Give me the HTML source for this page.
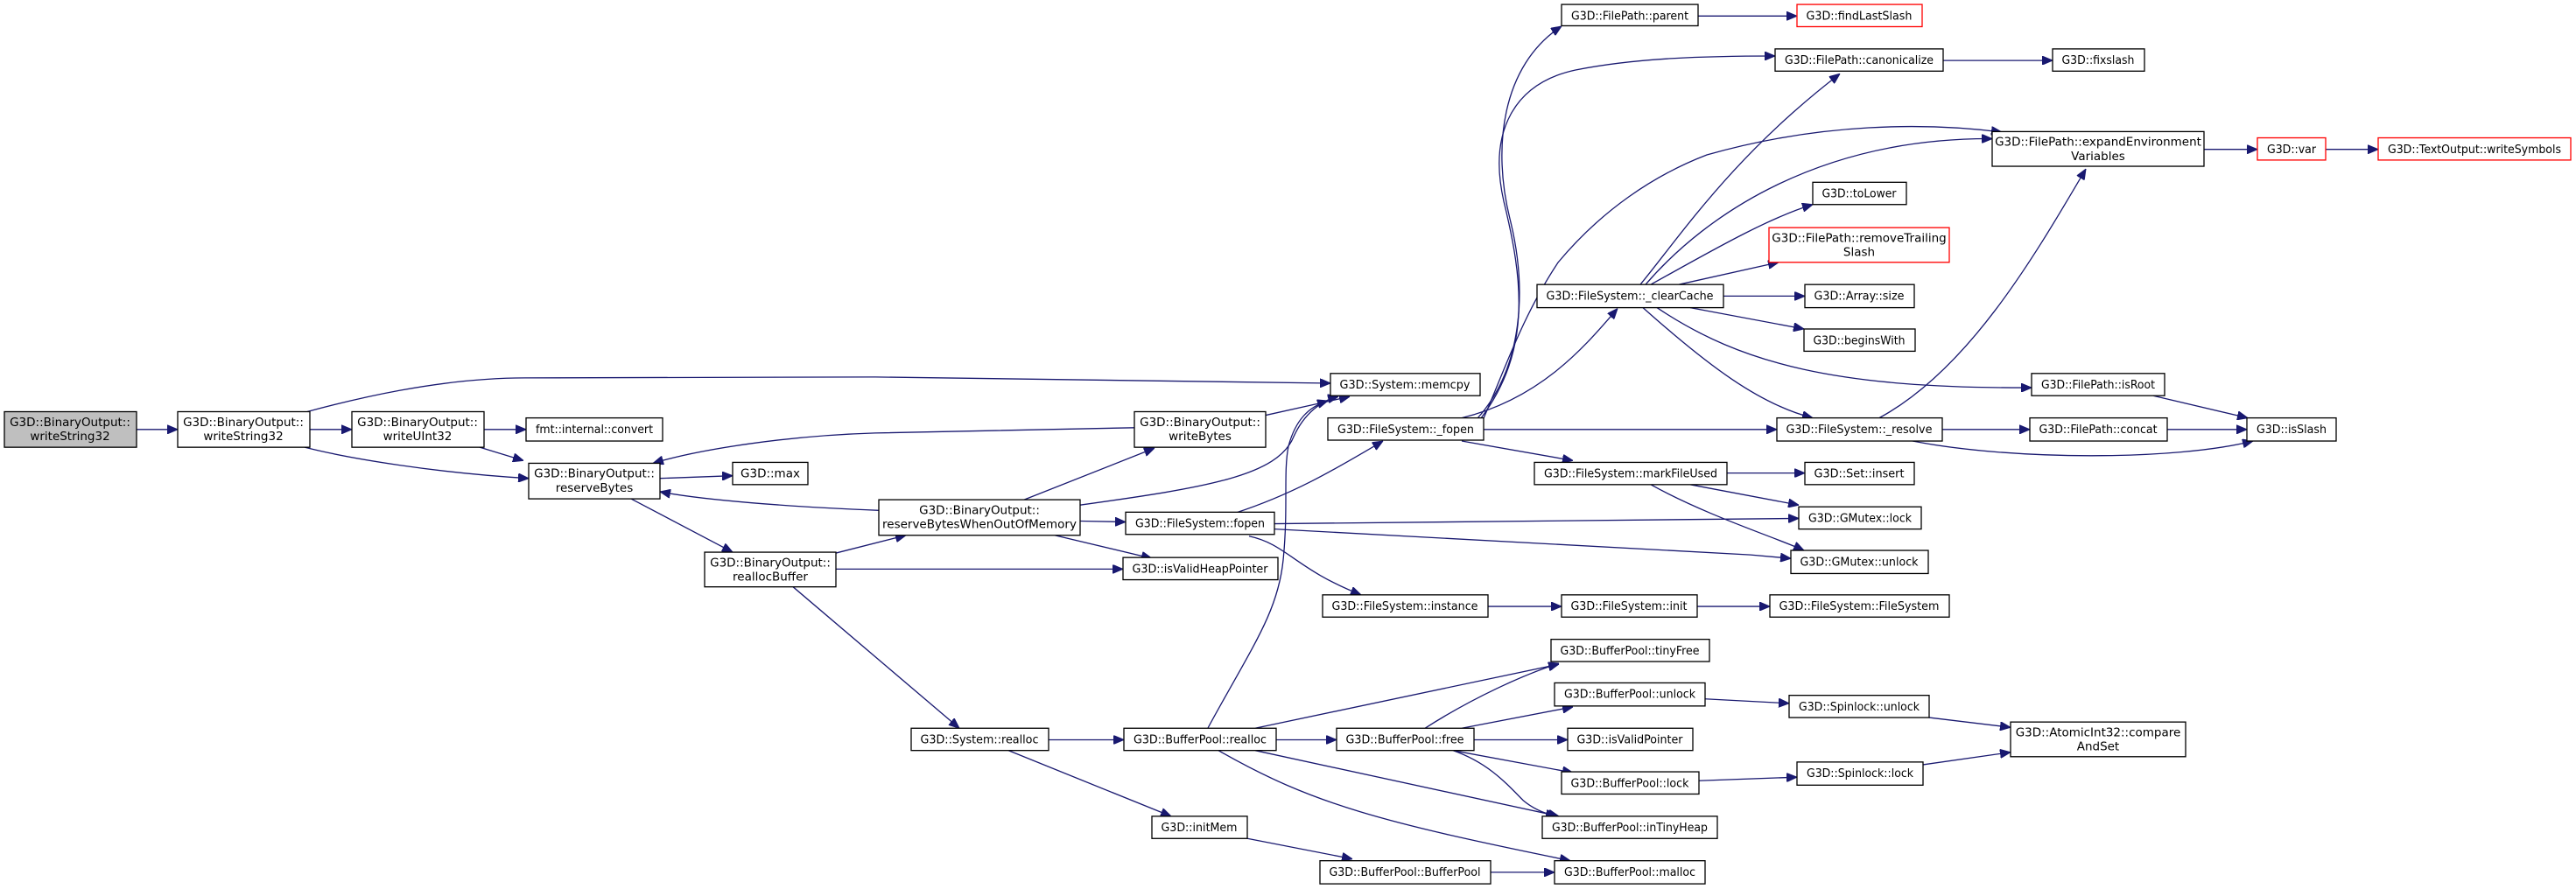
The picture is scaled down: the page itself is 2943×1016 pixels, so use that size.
<!DOCTYPE html>
<html><head><meta charset="utf-8"><style>
html,body{margin:0;padding:0;background:#fff;}
svg{display:block;}
text{font-family:"DejaVu Sans","Liberation Sans",sans-serif;font-size:13.5px;fill:#000;text-anchor:middle;}
.n{fill:#fff;stroke:#000;stroke-width:1.3;}
.r{fill:#fff;stroke:#ff0000;stroke-width:1.3;}
.g{fill:#bfbfbf;stroke:#000;stroke-width:1.3;}
.e{fill:none;stroke:#191970;stroke-width:1.3;marker-end:url(#a);}
</style></head><body>
<svg width="2943" height="1016" viewBox="0 0 2943 1016" xmlns="http://www.w3.org/2000/svg">
<defs><marker id="a" viewBox="0 0 12 10" refX="12" refY="5" markerWidth="12" markerHeight="10" markerUnits="userSpaceOnUse" orient="auto"><path d="M0,0 L12,5 L0,10 z" fill="#191970" stroke="#191970"/></marker></defs>

<!-- edges in real coords -->
<path class="e" d="M1688,478 C1740,420 1745,330 1725,250 C1705,170 1715,75 1784,30"/>
<path class="e" d="M1692,478 C1750,400 1740,320 1718,230 C1700,150 1730,95 1800,80 C1870,66 1950,64 2028,64"/>
<path class="e" d="M1695,478 C1720,420 1740,360 1780,300 C1830,240 1890,200 1950,177 C2080,140 2200,140 2287,151"/>
<path class="e" d="M1380,832 C1430,740 1460,700 1466,640 C1472,580 1466,540 1472,510 C1480,480 1495,465 1517,458"/>

<g transform="scale(1,1.0162)">
<!-- edges -->
<path class="e" d="M156,483 L203,483"/>
<path class="e" d="M354,483 L402,483"/>
<path class="e" d="M553,483 L601,483"/>
<path class="e" d="M351,463 C400,450 500,425 600,425 L1000,424 L1520,431"/>
<path class="e" d="M348,503 C400,516 500,532 604,538"/>
<path class="e" d="M548,503 L598,518"/>
<path class="e" d="M754,538 L837,535"/>
<path class="e" d="M721,561 L837,621"/>
<path class="e" d="M1296,481 L1000,487 C900,490 800,505 746,521"/>
<path class="e" d="M1004,574 C900,570 800,562 754,553"/>
<path class="e" d="M955,622 L1035,602"/>
<path class="e" d="M955,640 L1283,640"/>
<path class="e" d="M906,660 L1096,819"/>
<path class="e" d="M1170,562 L1319,504"/>
<path class="e" d="M1446,467 L1542,446"/>
<path class="e" d="M1234,568 C1380,548 1460,535 1478,491 C1490,465 1510,450 1529,446"/>
<path class="e" d="M1234,586 L1286,587"/>
<path class="e" d="M1205,602 L1316,628"/>
<path class="e" d="M1411,577 C1480,555 1530,525 1580,496"/>
<path class="e" d="M1456,589 L2055,583"/>
<path class="e" d="M1456,595 L2000,624 L2046,628"/>
<path class="e" d="M1427,603 C1470,612 1480,640 1555,669"/>
<path class="e" d="M1700,682 L1784,682"/>
<path class="e" d="M1939,682 L2022,682"/>
<path class="e" d="M1198,832 L1284,832"/>
<path class="e" d="M1152,844 L1338,918"/>
<path class="e" d="M1425,943 L1545,966"/>
<path class="e" d="M1703,981 L1776,981"/>
<path class="e" d="M1458,832 L1527,832"/>
<path class="e" d="M1434,819 L1781,747"/>
<path class="e" d="M1434,844 L1781,918"/>
<path class="e" d="M1392,844 C1500,905 1580,925 1794,968"/>
<path class="e" d="M1628,819 C1682,785 1740,759 1781,746"/>
<path class="e" d="M1670,819 L1797,795"/>
<path class="e" d="M1684,832 L1791,832"/>
<path class="e" d="M1660,844 L1797,869"/>
<path class="e" d="M1660,844 C1700,858 1720,880 1740,900 C1752,910 1765,915 1778,918"/>
<path class="e" d="M1948,786 L2044,791"/>
<path class="e" d="M1941,878 L2053,874"/>
<path class="e" d="M2204,807 L2297,818"/>
<path class="e" d="M2197,860 L2297,846"/>
<path class="e" d="M1670,470 C1765,447 1816,383 1848,347"/>
<path class="e" d="M1695,483 L2030,483"/>
<path class="e" d="M1670,496 L1797,518"/>
<path class="e" d="M1874,320 C1920,265 1980,175 2102,83"/>
<path class="e" d="M1880,320 C1950,240 2080,155 2276,156"/>
<path class="e" d="M1886,320 C1950,285 2020,245 2071,230"/>
<path class="e" d="M1918,320 L2032,295"/>
<path class="e" d="M1969,333 L2062,333"/>
<path class="e" d="M1931,346 L2061,370"/>
<path class="e" d="M1893,346 C1990,410 2100,437 2321,436"/>
<path class="e" d="M1877,346 C1950,410 2010,455 2071,470"/>
<path class="e" d="M2147,470 C2250,415 2325,287 2383,190"/>
<path class="e" d="M2219,483 L2319,483"/>
<path class="e" d="M2185,496 C2300,518 2485,518 2574,496"/>
<path class="e" d="M2476,483 L2567,483"/>
<path class="e" d="M2460,445 L2568,470"/>
<path class="e" d="M1973,532 L2062,532"/>
<path class="e" d="M1931,545 L2055,568"/>
<path class="e" d="M1886,545 C1950,580 2030,605 2061,619"/>
<path class="e" d="M1940,18 L2053,18"/>
<path class="e" d="M2220,68 L2345,68"/>
<path class="e" d="M2518,168 L2579,168"/>
<path class="e" d="M2657,168 L2717,168"/>

<!-- two-line nodes -->
<rect class="g" x="5" y="463" width="151" height="40"/><text x="80" y="479">G3D::BinaryOutput::</text><text x="80" y="495">writeString32</text>
<rect class="n" x="203" y="463" width="151" height="40"/><text x="278" y="479">G3D::BinaryOutput::</text><text x="278" y="495">writeString32</text>
<rect class="n" x="402" y="463" width="151" height="40"/><text x="477" y="479">G3D::BinaryOutput::</text><text x="477" y="495">writeUInt32</text>
<rect class="n" x="604" y="521" width="150" height="40"/><text x="679" y="537">G3D::BinaryOutput::</text><text x="679" y="553">reserveBytes</text>
<rect class="n" x="805" y="621" width="150" height="39"/><text x="880" y="637">G3D::BinaryOutput::</text><text x="880" y="653">reallocBuffer</text>
<rect class="n" x="1296" y="463" width="150" height="40"/><text x="1371" y="479">G3D::BinaryOutput::</text><text x="1371" y="495">writeBytes</text>
<rect class="n" x="1004" y="562" width="230" height="40"/><text x="1119" y="578">G3D::BinaryOutput::</text><text x="1119" y="594">reserveBytesWhenOutOfMemory</text>
<rect class="n" x="2276" y="148" width="242" height="39"/><text x="2397" y="164">G3D::FilePath::expandEnvironment</text><text x="2397" y="180">Variables</text>
<rect class="r" x="2021" y="256" width="206" height="39"/><text x="2124" y="272">G3D::FilePath::removeTrailing</text><text x="2124" y="288">Slash</text>
<rect class="n" x="2297" y="812" width="200" height="39"/><text x="2397" y="828">G3D::AtomicInt32::compare</text><text x="2397" y="844">AndSet</text>

<!-- single-line nodes -->
<rect class="n" x="601" y="470" width="156" height="26"/><text x="679" y="487" textLength="134" lengthAdjust="spacingAndGlyphs">fmt::internal::convert</text>
<rect class="n" x="837" y="520" width="86" height="25"/><text x="880" y="537">G3D::max</text>
<rect class="n" x="1784" y="5" width="156" height="24"/><text x="1862" y="22" textLength="134" lengthAdjust="spacingAndGlyphs">G3D::FilePath::parent</text>
<rect class="r" x="2053" y="5" width="143" height="25"/><text x="2124" y="22" textLength="121" lengthAdjust="spacingAndGlyphs">G3D::findLastSlash</text>
<rect class="n" x="2028" y="55" width="192" height="25"/><text x="2124" y="72" textLength="170" lengthAdjust="spacingAndGlyphs">G3D::FilePath::canonicalize</text>
<rect class="n" x="2345" y="55" width="105" height="25"/><text x="2397" y="72" textLength="83" lengthAdjust="spacingAndGlyphs">G3D::fixslash</text>
<rect class="r" x="2579" y="155" width="78" height="25"/><text x="2618" y="172" textLength="56" lengthAdjust="spacingAndGlyphs">G3D::var</text>
<rect class="r" x="2717" y="155" width="220" height="25"/><text x="2827" y="172" textLength="198" lengthAdjust="spacingAndGlyphs">G3D::TextOutput::writeSymbols</text>
<rect class="n" x="2071" y="205" width="107" height="25"/><text x="2124" y="222" textLength="85" lengthAdjust="spacingAndGlyphs">G3D::toLower</text>
<rect class="n" x="1756" y="320" width="213" height="26"/><text x="1862" y="337" textLength="191" lengthAdjust="spacingAndGlyphs">G3D::FileSystem::_clearCache</text>
<rect class="n" x="2062" y="320" width="125" height="26"/><text x="2124" y="337" textLength="103" lengthAdjust="spacingAndGlyphs">G3D::Array::size</text>
<rect class="n" x="2061" y="370" width="127" height="25"/><text x="2124" y="387" textLength="105" lengthAdjust="spacingAndGlyphs">G3D::beginsWith</text>
<rect class="n" x="1520" y="420" width="171" height="25"/><text x="1605" y="437" textLength="149" lengthAdjust="spacingAndGlyphs">G3D::System::memcpy</text>
<rect class="n" x="2321" y="420" width="152" height="25"/><text x="2397" y="437" textLength="130" lengthAdjust="spacingAndGlyphs">G3D::FilePath::isRoot</text>
<rect class="n" x="1517" y="470" width="178" height="25"/><text x="1606" y="487" textLength="156" lengthAdjust="spacingAndGlyphs">G3D::FileSystem::_fopen</text>
<rect class="n" x="2030" y="470" width="189" height="26"/><text x="2124" y="487" textLength="167" lengthAdjust="spacingAndGlyphs">G3D::FileSystem::_resolve</text>
<rect class="n" x="2319" y="470" width="157" height="26"/><text x="2397" y="487" textLength="135" lengthAdjust="spacingAndGlyphs">G3D::FilePath::concat</text>
<rect class="n" x="2567" y="470" width="102" height="26"/><text x="2618" y="487" textLength="80" lengthAdjust="spacingAndGlyphs">G3D::isSlash</text>
<rect class="n" x="1753" y="520" width="220" height="25"/><text x="1863" y="537" textLength="198" lengthAdjust="spacingAndGlyphs">G3D::FileSystem::markFileUsed</text>
<rect class="n" x="2062" y="520" width="125" height="25"/><text x="2124" y="537" textLength="103" lengthAdjust="spacingAndGlyphs">G3D::Set::insert</text>
<rect class="n" x="2055" y="570" width="140" height="25"/><text x="2125" y="587" textLength="118" lengthAdjust="spacingAndGlyphs">G3D::GMutex::lock</text>
<rect class="n" x="1286" y="576" width="170" height="25"/><text x="1371" y="593" textLength="148" lengthAdjust="spacingAndGlyphs">G3D::FileSystem::fopen</text>
<rect class="n" x="2046" y="619" width="157" height="26"/><text x="2124" y="636" textLength="135" lengthAdjust="spacingAndGlyphs">G3D::GMutex::unlock</text>
<rect class="n" x="1283" y="627" width="177" height="25"/><text x="1371" y="644" textLength="155" lengthAdjust="spacingAndGlyphs">G3D::isValidHeapPointer</text>
<rect class="n" x="1511" y="669" width="189" height="25"/><text x="1605" y="686" textLength="167" lengthAdjust="spacingAndGlyphs">G3D::FileSystem::instance</text>
<rect class="n" x="1784" y="669" width="155" height="25"/><text x="1861" y="686" textLength="133" lengthAdjust="spacingAndGlyphs">G3D::FileSystem::init</text>
<rect class="n" x="2022" y="669" width="205" height="25"/><text x="2124" y="686" textLength="183" lengthAdjust="spacingAndGlyphs">G3D::FileSystem::FileSystem</text>
<rect class="n" x="1772" y="719" width="181" height="25"/><text x="1862" y="736" textLength="159" lengthAdjust="spacingAndGlyphs">G3D::BufferPool::tinyFree</text>
<rect class="n" x="1776" y="768" width="172" height="26"/><text x="1862" y="785" textLength="150" lengthAdjust="spacingAndGlyphs">G3D::BufferPool::unlock</text>
<rect class="n" x="2044" y="782" width="160" height="25"/><text x="2124" y="799" textLength="138" lengthAdjust="spacingAndGlyphs">G3D::Spinlock::unlock</text>
<rect class="n" x="1041" y="819" width="157" height="25"/><text x="1119" y="836" textLength="135" lengthAdjust="spacingAndGlyphs">G3D::System::realloc</text>
<rect class="n" x="1284" y="819" width="174" height="25"/><text x="1371" y="836" textLength="152" lengthAdjust="spacingAndGlyphs">G3D::BufferPool::realloc</text>
<rect class="n" x="1527" y="819" width="157" height="25"/><text x="1605" y="836" textLength="135" lengthAdjust="spacingAndGlyphs">G3D::BufferPool::free</text>
<rect class="n" x="1791" y="819" width="143" height="25"/><text x="1862" y="836" textLength="121" lengthAdjust="spacingAndGlyphs">G3D::isValidPointer</text>
<rect class="n" x="2053" y="857" width="144" height="26"/><text x="2125" y="874" textLength="122" lengthAdjust="spacingAndGlyphs">G3D::Spinlock::lock</text>
<rect class="n" x="1784" y="868" width="157" height="25"/><text x="1862" y="885" textLength="135" lengthAdjust="spacingAndGlyphs">G3D::BufferPool::lock</text>
<rect class="n" x="1316" y="918" width="109" height="25"/><text x="1370" y="935" textLength="87" lengthAdjust="spacingAndGlyphs">G3D::initMem</text>
<rect class="n" x="1762" y="918" width="200" height="25"/><text x="1862" y="935" textLength="178" lengthAdjust="spacingAndGlyphs">G3D::BufferPool::inTinyHeap</text>
<rect class="n" x="1508" y="968" width="195" height="26"/><text x="1605" y="985" textLength="173" lengthAdjust="spacingAndGlyphs">G3D::BufferPool::BufferPool</text>
<rect class="n" x="1776" y="968" width="172" height="26"/><text x="1862" y="985" textLength="150" lengthAdjust="spacingAndGlyphs">G3D::BufferPool::malloc</text>
</g>
</svg>
</body></html>
